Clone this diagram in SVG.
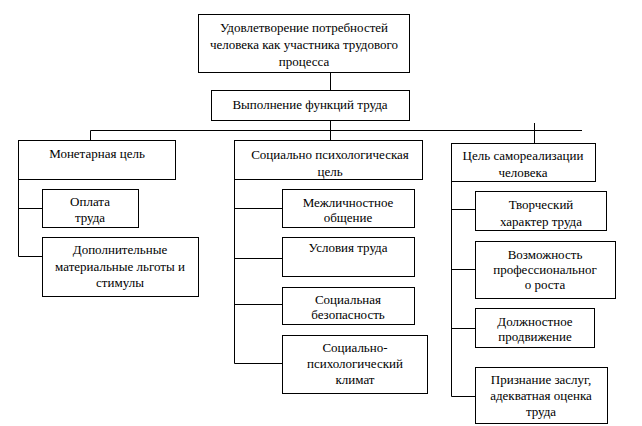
<svg xmlns="http://www.w3.org/2000/svg" width="642" height="426" viewBox="0 0 642 426">
<style>
rect{fill:#fff;stroke:#000;stroke-width:1}
text{font-family:'Times New Roman',Tinos,'Liberation Serif','Noto Serif','DejaVu Serif',serif;font-size:13px;fill:#000;text-anchor:middle}
#connectors path{fill:none;stroke:#000;stroke-width:1}
</style>
<rect x="0" y="0" width="642" height="426" style="stroke:none"/>
<g id="connectors">
<path d="M330.5 72V90M330.5 120V130.5M90.5 130.5H582M90.5 130.5V140M330.5 130.5V140M534.5 123V143"/>
<path d="M18.5 179V256.5H42M18.5 208.5H42"/>
<path d="M234.5 179V363.5H282M234.5 208.5H282M234.5 258.5H282M234.5 304.5H282"/>
<path d="M451.5 181V396.5H475M451.5 209.5H475M451.5 269.5H475M451.5 328.5H475"/>
</g>
<g id="n-top"><rect x="198.5" y="14.5" width="211" height="58"/>
<text x="304" y="32">Удовлетворение потребностей</text>
<text x="304" y="49">человека как участника трудового</text>
<text x="304" y="66">процесса</text></g>
<g id="n-func"><rect x="211.5" y="90.5" width="198" height="30"/>
<text x="310" y="109">Выполнение функций труда</text></g>
<g id="n-money"><rect x="18.5" y="140.5" width="157" height="39"/>
<text x="97" y="158">Монетарная цель</text></g>
<g id="n-pay"><rect x="42.5" y="189.5" width="96" height="38"/>
<text x="90" y="206">Оплата</text>
<text x="90" y="222">труда</text></g>
<g id="n-extra"><rect x="42.5" y="237.5" width="156" height="59"/>
<text x="120" y="254">Дополнительные</text>
<text x="120" y="271">материальные льготы и</text>
<text x="120" y="287">стимулы</text></g>
<g id="n-soc"><rect x="234.5" y="140.5" width="188" height="39"/>
<text x="330" y="159">Социально психологическая</text>
<text x="330" y="176">цель</text></g>
<g id="n-mezh"><rect x="282.5" y="189.5" width="132" height="38"/>
<text x="348" y="207">Межличностное</text>
<text x="348" y="222">общение</text></g>
<g id="n-usl"><rect x="282.5" y="237.5" width="132" height="39"/>
<text x="348" y="252">Условия труда</text></g>
<g id="n-socbez"><rect x="282.5" y="287.5" width="132" height="37"/>
<text x="348" y="304">Социальная</text>
<text x="348" y="319">безопасность</text></g>
<g id="n-socpsy"><rect x="282.5" y="335.5" width="145" height="58"/>
<text x="355" y="352">Социально-</text>
<text x="355" y="368">психологический</text>
<text x="355" y="384">климат</text></g>
<g id="n-self"><rect x="451.5" y="143.5" width="144" height="38"/>
<text x="523" y="160">Цель самореализации</text>
<text x="523" y="177">человека</text></g>
<g id="n-creat"><rect x="475.5" y="191.5" width="131" height="39"/>
<text x="541" y="209">Творческий</text>
<text x="541" y="226">характер труда</text></g>
<g id="n-vozm"><rect x="475.5" y="241.5" width="140" height="57"/>
<text x="545" y="259">Возможность</text>
<text x="545" y="274">профессиональног</text>
<text x="545" y="289">о роста</text></g>
<g id="n-dolzh"><rect x="475.5" y="308.5" width="119" height="39"/>
<text x="535" y="326">Должностное</text>
<text x="535" y="341">продвижение</text></g>
<g id="n-prizn"><rect x="475.5" y="367.5" width="132" height="56"/>
<text x="541" y="384">Признание заслуг,</text>
<text x="541" y="400">адекватная оценка</text>
<text x="541" y="416">труда</text></g>
</svg>
